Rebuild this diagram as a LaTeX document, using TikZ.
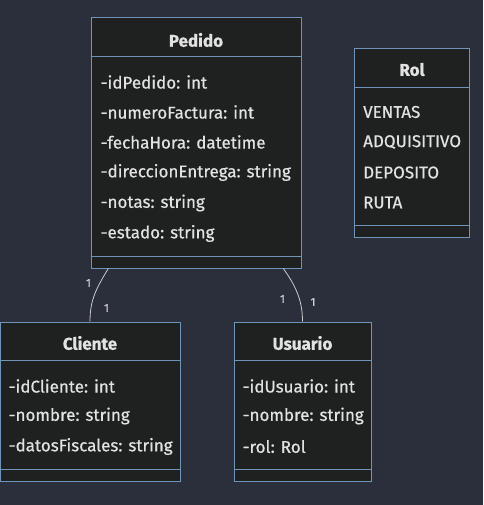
\documentclass[tikz,border=0pt]{standalone}
\usepackage{fontspec}
\setmainfont{Fira Sans}[FakeBold=0.6]
\newfontfamily\boldfam{Fira Sans}[FakeBold=0.3]
\definecolor{bg}{HTML}{2A2F3B}
\definecolor{boxfill}{HTML}{1F2020}
\definecolor{boxline}{HTML}{6E94BA}
\definecolor{txt}{HTML}{E2E2E2}
\definecolor{conn}{HTML}{CCCCCC}
\begin{document}
\begin{tikzpicture}[x=1pt,y=-1pt,
  classbox/.style={draw=boxline,fill=boxfill,line width=1pt,inner sep=0pt},
  title/.style={text=txt,font=\fontsize{17}{20}\selectfont\bfseries,inner sep=0pt},
  attr/.style={text=txt,font=\fontsize{17}{20}\selectfont,anchor=west,inner sep=0pt},
  mult/.style={text=conn,font=\fontsize{11.5}{13}\selectfont,inner sep=0pt},
  sep/.style={draw=boxline,line width=1pt},
  link/.style={draw=conn,line width=0.8pt}]
\fill[bg] (0,0) rectangle (483,505);
\useasboundingbox (0,0) rectangle (483,505);
% Pedido
\node[classbox,minimum width=210pt,minimum height=250pt] (pedido) at (196,143) {};
\draw[sep] (pedido.west |- 0,57) -- (pedido.east |- 0,57);
\draw[sep] (pedido.west |- 0,256.5) -- (pedido.east |- 0,256.5);
\node[title] (pt) at (196,40) {Pedido};
\node[attr] (p1) at (100.5,82) {-idPedido: int};
\node[attr] (p2) at (100.5,112) {-numeroFactura: int};
\node[attr] (p3) at (100.5,142) {-fechaHora: datetime};
\node[attr] (p4) at (100.5,172.5) {-direccionEntrega: string};
\node[attr] (p5) at (100.5,203) {-notas: string};
\node[attr] (p6) at (100.5,233.5) {-estado: string};
% Rol
\node[classbox,minimum width=114.5pt,minimum height=188pt] (rol) at (412,143) {};
\draw[sep] (rol.west |- 0,87.3) -- (rol.east |- 0,87.3);
\draw[sep] (rol.west |- 0,225.7) -- (rol.east |- 0,225.7);
\node[title] (rt) at (412,69.5) {Rol};
\node[attr] (r1) at (363,112) {VENTAS};
\node[attr] (r2) at (363,142) {ADQUISITIVO};
\node[attr] (r3) at (363,172.5) {DEPOSITO};
\node[attr] (r4) at (363,202.5) {RUTA};
% Cliente
\node[classbox,minimum width=180pt,minimum height=159pt] (cliente) at (90,401.5) {};
\draw[sep] (cliente.west |- 0,360.7) -- (cliente.east |- 0,360.7);
\draw[sep] (cliente.west |- 0,469.3) -- (cliente.east |- 0,469.3);
\node[title] (ct) at (90,343) {Cliente};
\node[attr] (c1) at (8.5,386) {-idCliente: int};
\node[attr] (c2) at (8.5,416) {-nombre: string};
\node[attr] (c3) at (8.5,446.5) {-datosFiscales: string};
% Usuario
\node[classbox,minimum width=137pt,minimum height=159pt] (usuario) at (302.5,401.5) {};
\draw[sep] (usuario.west |- 0,360.7) -- (usuario.east |- 0,360.7);
\draw[sep] (usuario.west |- 0,469.3) -- (usuario.east |- 0,469.3);
\node[title] (ut) at (302.5,343) {Usuario};
\node[attr] (u1) at (242.5,386) {-idUsuario: int};
\node[attr] (u2) at (242.5,416) {-nombre: string};
\node[attr] (u3) at (242.5,446.5) {-rol: Rol};
% connectors
\draw[link] ([xshift=-87.7pt]pedido.south) .. controls +(-12,20) and +(0,-22) .. (cliente.north);
\draw[link] ([xshift=87.3pt]pedido.south) .. controls +(12,17) and +(0,-22) .. (usuario.north);
\node[mult] (m1) at (88.5,283) {1};
\node[mult] (m2) at (106.5,308) {1};
\node[mult] (m3) at (282.5,299) {1};
\node[mult] (m4) at (313,302) {1};
\end{tikzpicture}
\end{document}
